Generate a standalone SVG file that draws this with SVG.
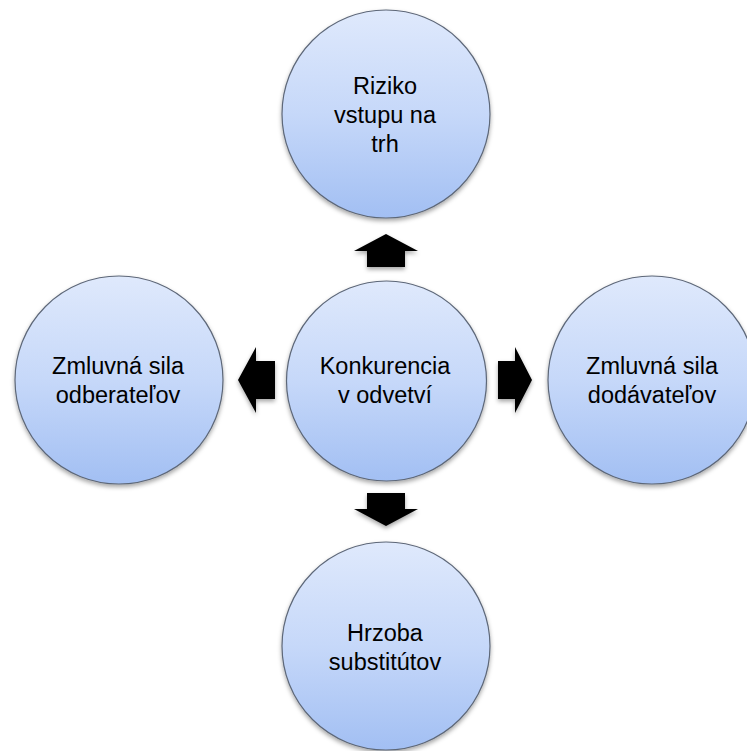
<svg xmlns="http://www.w3.org/2000/svg" width="747" height="751" viewBox="0 0 747 751">
<defs>
<linearGradient id="g" x1="0" y1="0" x2="0" y2="1">
<stop offset="0" stop-color="#dfe9fc"/>
<stop offset="0.5" stop-color="#c6d8f9"/>
<stop offset="1" stop-color="#a2bff3"/>
</linearGradient>
<filter id="sh" x="-20%" y="-20%" width="140%" height="140%">
<feDropShadow dx="0" dy="2.5" stdDeviation="2" flood-color="#000" flood-opacity="0.35"/>
</filter>
</defs>
<style>
.c{fill:url(#g);stroke:#5d6778;stroke-width:1.2;filter:url(#sh)}
.t{font-family:"Liberation Sans",Arial,sans-serif;font-size:23.5px;fill:#000;text-anchor:middle}
.a{fill:#000;filter:url(#sh)}
</style>
<rect width="747" height="751" fill="#fff"/>
<g id="connectors">
<polygon class="a" points="386,234 418,251 405,251 405,267 367,267 367,251 354,251"/>
<polygon class="a" points="386,526 418,509 405,509 405,493 367,493 367,509 354,509"/>
<polygon class="a" points="238,380 256,347 256,361 275,361 275,399 256,399 256,413"/>
<polygon class="a" points="532,380 515,347 515,361 498,361 498,399 515,399 515,413"/>
</g>
<g id="top">
<circle class="c" cx="386" cy="114" r="104"/>
<text class="t" x="385" y="94">Riziko</text>
<text class="t" x="385" y="123">vstupu na</text>
<text class="t" x="385" y="152">trh</text>
</g>
<g id="center">
<circle class="c" cx="386.5" cy="381" r="100"/>
<text class="t" x="385" y="374">Konkurencia</text>
<text class="t" x="385" y="403">v odvetví</text>
</g>
<g id="left">
<circle class="c" cx="119" cy="380" r="104"/>
<text class="t" x="118" y="374">Zmluvná sila</text>
<text class="t" x="118" y="403">odberateľov</text>
</g>
<g id="right">
<circle class="c" cx="652" cy="380" r="104"/>
<text class="t" x="652" y="374">Zmluvná sila</text>
<text class="t" x="652" y="403">dodávateľov</text>
</g>
<g id="bottom">
<circle class="c" cx="386" cy="646" r="104"/>
<text class="t" x="385" y="641">Hrzoba</text>
<text class="t" x="385" y="670">substitútov</text>
</g>
</svg>
